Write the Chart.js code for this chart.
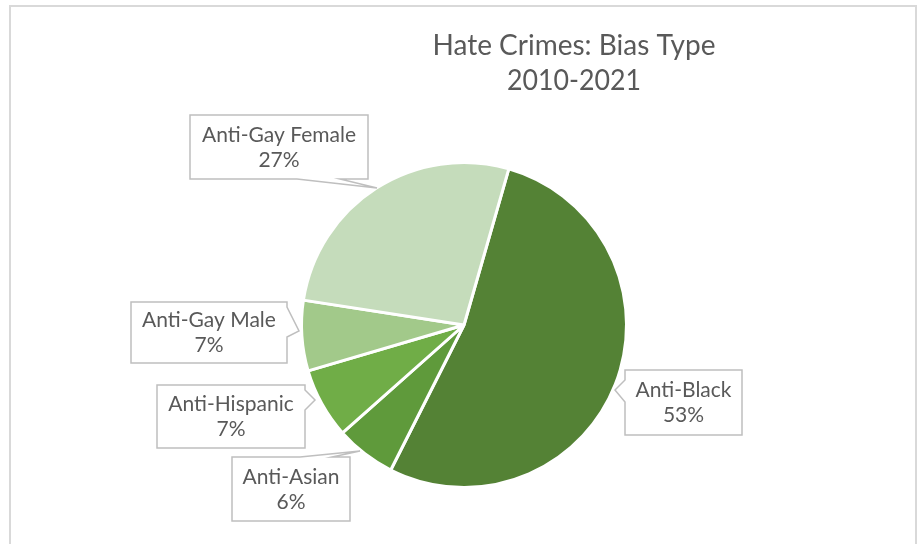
<!DOCTYPE html>
<html>
<head>
<meta charset="utf-8">
<script src="https://cdn.jsdelivr.net/npm/chart.js@4/dist/chart.umd.min.js"></script>
<style>
html,body{margin:0;padding:0;background:#fff;}
#wrap{position:relative;width:921px;height:544px;}
canvas{display:block;}
</style>
</head>
<body>
<div id="wrap"><canvas id="c" width="921" height="544"></canvas></div>
<script>
const titleLines = ["Hate Crimes: Bias Type", "2010-2021"];
const categories = ["Anti-Black", "Anti-Asian", "Anti-Hispanic", "Anti-Gay Male", "Anti-Gay Female"];
const values = [53, 6, 7, 7, 27];
const colors = ["#548235", "#5f9a3b", "#70ad47", "#a2c98a", "#c5dcbb"];

// callout boxes: [x, y, w, h] and pointer tip + base edge
const callouts = [
  {box:[625,370,117,65], side:"left",  base:[380,402], tip:[615,390]},
  {box:[232,457,118,64], side:"top",   base:[300,332], tip:[360,451]},
  {box:[157,385,148,63], side:"right", base:[390,410], tip:[315,400]},
  {box:[131,302,156,61], side:"right", base:[307,337], tip:[299,331]},
  {box:[190,115,178,64], side:"bottom",base:[297,340], tip:[377,188]}
];

const frameAndLabels = {
  id: 'frameAndLabels',
  afterDraw(chart) {
    const ctx = chart.ctx;
    ctx.save();
    // outer frame
    ctx.strokeStyle = '#d9d9d9';
    ctx.lineWidth = 2;
    ctx.strokeRect(10, 6, 906, 560);
    // title
    ctx.fillStyle = '#595959';
    ctx.font = '28px Lato';
    ctx.textAlign = 'center';
    ctx.textBaseline = 'middle';
    ctx.fillText(titleLines[0], 574, 46, 290);
    ctx.fillText(titleLines[1], 574, 81, 134);
    // callouts
    const total = values.reduce((a,b)=>a+b,0);
    callouts.forEach((c, i) => {
      const [x,y,w,h] = c.box;
      const [b1,b2] = c.base;
      const [tx,ty] = c.tip;
      ctx.beginPath();
      if (c.side === 'left') {
        ctx.moveTo(x, y); ctx.lineTo(x+w, y); ctx.lineTo(x+w, y+h); ctx.lineTo(x, y+h);
        ctx.lineTo(x, b2); ctx.lineTo(tx, ty); ctx.lineTo(x, b1); ctx.closePath();
      } else if (c.side === 'right') {
        ctx.moveTo(x, y); ctx.lineTo(x+w, y); ctx.lineTo(x+w, b1); ctx.lineTo(tx, ty);
        ctx.lineTo(x+w, b2); ctx.lineTo(x+w, y+h); ctx.lineTo(x, y+h); ctx.closePath();
      } else if (c.side === 'top') {
        ctx.moveTo(x, y); ctx.lineTo(b1, y); ctx.lineTo(tx, ty); ctx.lineTo(b2, y);
        ctx.lineTo(x+w, y); ctx.lineTo(x+w, y+h); ctx.lineTo(x, y+h); ctx.closePath();
      } else {
        ctx.moveTo(x, y); ctx.lineTo(x+w, y); ctx.lineTo(x+w, y+h); ctx.lineTo(b2, y+h);
        ctx.lineTo(tx, ty); ctx.lineTo(b1, y+h); ctx.lineTo(x, y+h); ctx.closePath();
      }
      ctx.fillStyle = '#ffffff';
      ctx.fill();
      ctx.strokeStyle = '#bfbfbf';
      ctx.lineWidth = 1.5;
      ctx.stroke();
      ctx.fillStyle = '#595959';
      ctx.font = '21px Lato';
      ctx.textAlign = 'center';
      ctx.textBaseline = 'middle';
      const pct = Math.round(values[i] / total * 100) + '%';
      ctx.fillText(categories[i], x + w/2, y + h/2 - 12);
      ctx.fillText(pct, x + w/2, y + h/2 + 13);
    });
    ctx.restore();
  }
};

new Chart(document.getElementById('c'), {
  type: 'pie',
  data: {
    labels: categories,
    datasets: [{
      data: values,
      backgroundColor: colors,
      borderColor: '#ffffff',
      borderWidth: 3
    }]
  },
  options: {
    responsive: false,
    animation: false,
    rotation: 16,
    layout: { padding: { left: 300, right: 293, top: 160, bottom: 54 } },
    plugins: { legend: { display: false }, tooltip: { enabled: false }, title: { display: false } }
  },
  plugins: [frameAndLabels]
});
</script>
</body>
</html>
